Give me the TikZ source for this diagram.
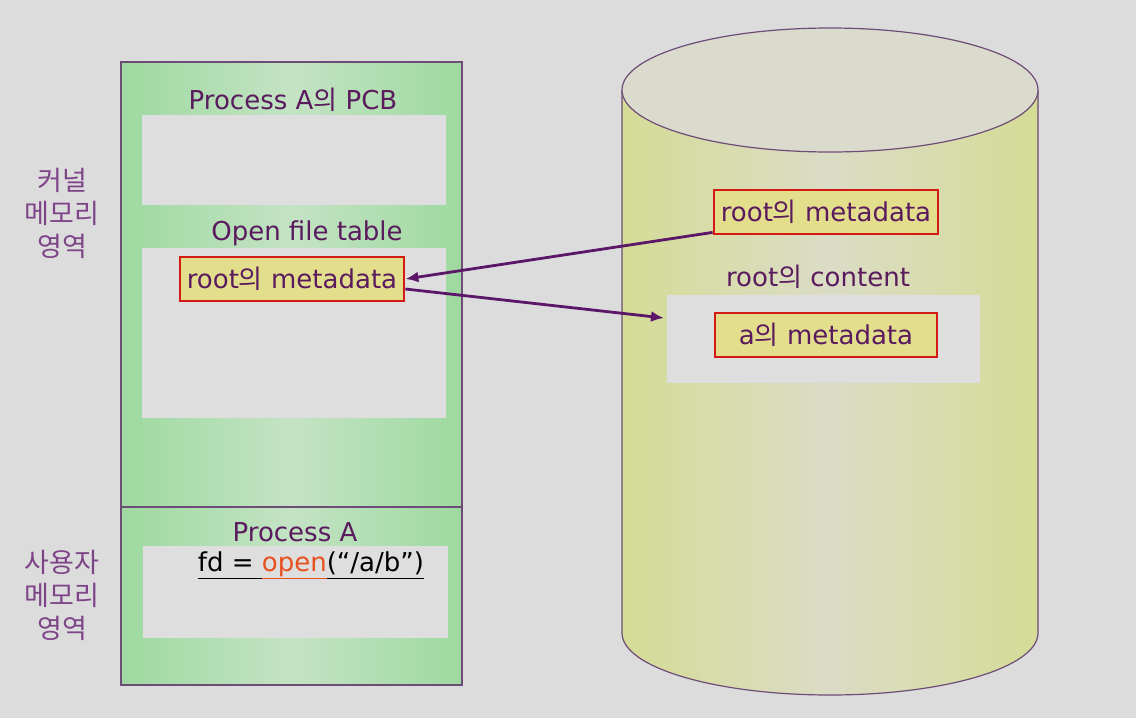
\documentclass[tikz,border=0pt]{standalone}
\usepackage{fontspec}
\setmainfont{DejaVu Sans}
\newfontfamily\kr{Noto Sans CJK KR}
\usetikzlibrary{arrows.meta,positioning,calc}
\definecolor{bggray}{HTML}{DCDCDC}
\definecolor{panelgreen}{HTML}{9ED9A0}
\definecolor{panelmid}{HTML}{C4E3C4}
\definecolor{boxgray}{HTML}{DEDEDE}
\definecolor{txtpurple}{HTML}{5A1A5E}
\definecolor{lblpurple}{HTML}{7E4488}
\definecolor{edgepurple}{HTML}{6E4C78}
\definecolor{metayellow}{HTML}{E3DE8C}
\definecolor{metared}{HTML}{D41A14}
\definecolor{cylside}{HTML}{D5DC96}
\definecolor{cylmid}{HTML}{DBDCC6}
\definecolor{cyltop}{HTML}{DADBCD}
\definecolor{arrowpurple}{HTML}{5C1668}
\definecolor{openred}{HTML}{E8501E}
\newcommand{\ui}{{\kr 의}}

\tikzset{
  txt/.style={text=txtpurple,font=\fontsize{26}{30}\selectfont,inner sep=0pt},
  lbl/.style={text=lblpurple,font=\kr\fontsize{27}{33}\selectfont,align=center,inner sep=0pt},
  graybox/.style={fill=boxgray,draw=none,inner sep=0pt},
  metabox/.style={fill=metayellow,draw=metared,line width=2.8pt,inner sep=0pt,
    text=txtpurple,font=\fontsize{26}{30}\selectfont,minimum height=44},
  link/.style={draw=arrowpurple,line width=2.8pt,-{Latex[length=13pt,width=11pt]}}
}

\begin{document}
\begin{tikzpicture}[x=1pt,y=-1pt]
\path[fill=bggray,use as bounding box] (0,0) rectangle (1136,718);

% memory panel
\path[left color=panelgreen,right color=panelgreen,middle color=panelmid] (121,62) rectangle (462,685);
\draw[edgepurple,line width=1.2pt] (121,62) rectangle (462,685);
\draw[edgepurple,line width=1.2pt] (121,507) -- (462,507);

\node[lbl] (K) at (62,213) {커널\\메모리\\영역};
\node[lbl] (U) at (62,595) {사용자\\메모리\\영역};

\node[txt] (PT) at (293,100) {Process A\ui{} PCB};
\node[graybox,minimum width=304,minimum height=90] (PCB) at (294,160) {};
\node[txt] (OT) at (307,233) {Open file table};
\node[graybox,minimum width=304,minimum height=170] (OFT) at (294,333) {};
\node[metabox,minimum width=224] (LM) at (292,279) {root\ui{} metadata};

\node[txt] (PA) at (295,532) {Process A};
\node[graybox,minimum width=305,minimum height=92] (PAB) at (295,592) {};
\node[inner sep=0pt,font=\fontsize{26}{30}\selectfont] (FD) at (311,565)
  {\underline{fd =\ \vphantom{p}}\textcolor{openred}{\underline{open}}\underline{(“/a/b”)\vphantom{p}}};

% disk
\path[left color=cylside,right color=cylside,middle color=cylmid]
  (622,90) -- (622,633) arc[start angle=180,end angle=0,x radius=208,y radius=62]
  -- (1038,90) -- cycle;
\draw[edgepurple,line width=1.2pt]
  (622,90) -- (622,633) arc[start angle=180,end angle=0,x radius=208,y radius=62]
  -- (1038,90);
\draw[edgepurple,line width=1.2pt,fill=cyltop] (830,90) ellipse[x radius=208,y radius=62];

\node[metabox,minimum width=224] (RM) at (826,212) {root\ui{} metadata};
\node[txt] (RC) at (818,277) {root\ui{} content};
\node[graybox,minimum width=313,minimum height=88] (RCB) at (823,339) {};
\node[metabox,minimum width=222] (AM) at (826,335) {a\ui{} metadata};
\coordinate (T) at (664,318);

\draw[link] ([yshift=3pt]RM.south west) -- (LM.east);
\draw[link] ([yshift=-10pt]LM.east) -- (T);
\end{tikzpicture}
\end{document}
